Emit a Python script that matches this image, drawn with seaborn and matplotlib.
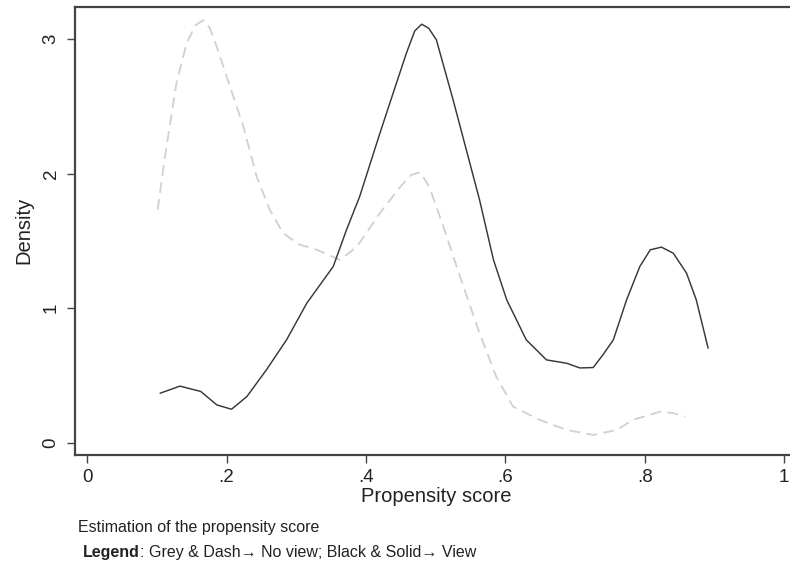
import matplotlib
matplotlib.use("Agg")
import matplotlib.pyplot as plt
import seaborn as sns
import pandas as pd

# Data (kernel density of propensity score)
view_x = [0.1045, 0.133, 0.163, 0.186, 0.207, 0.229, 0.257, 0.286, 0.315, 0.353,
          0.372, 0.391, 0.420, 0.439, 0.458, 0.470, 0.480, 0.490, 0.501, 0.525,
          0.544, 0.563, 0.583, 0.602, 0.630, 0.659, 0.688, 0.707, 0.726, 0.740,
          0.755, 0.774, 0.793, 0.808, 0.824, 0.841, 0.860, 0.874, 0.891]
view_y = [0.367, 0.420, 0.380, 0.280, 0.248, 0.342, 0.540, 0.764, 1.036, 1.309,
          1.581, 1.830, 2.300, 2.598, 2.895, 3.060, 3.110, 3.080, 2.994, 2.548,
          2.176, 1.804, 1.358, 1.061, 0.764, 0.615, 0.590, 0.555, 0.558, 0.652,
          0.764, 1.061, 1.309, 1.433, 1.453, 1.408, 1.260, 1.061, 0.702]

noview_x = [0.101, 0.1115, 0.128, 0.1426, 0.155, 0.1664, 0.176, 0.1857, 0.2047, 0.224,
            0.243, 0.262, 0.281, 0.305, 0.324, 0.363, 0.387, 0.420, 0.449, 0.465,
            0.478, 0.491, 0.511, 0.535, 0.563, 0.587, 0.611, 0.649, 0.688, 0.726,
            0.760, 0.783, 0.822, 0.841, 0.858]
noview_y = [1.730, 2.126, 2.672, 2.970, 3.100, 3.140, 3.080, 2.944, 2.650, 2.350,
            1.978, 1.730, 1.557, 1.470, 1.445, 1.358, 1.457, 1.706, 1.900, 1.990,
            2.010, 1.900, 1.606, 1.234, 0.813, 0.490, 0.268, 0.169, 0.094, 0.057,
            0.094, 0.169, 0.230, 0.219, 0.193]

x_ticks = [0, 0.2, 0.4, 0.6, 0.8, 1.0]
x_tick_labels = ["0", ".2", ".4", ".6", ".8", "1"]
y_ticks = [0, 1, 2, 3]
y_tick_labels = ["0", "1", "2", "3"]

sns.set_style("white")
plt.rcParams["font.family"] = ["Liberation Sans", "DejaVu Sans"]

fig = plt.figure(figsize=(7.90, 5.61), dpi=100)
ax = fig.add_axes([75 / 790, 1 - 455 / 561, 723 / 790, (455 - 6.7) / 561])

df_view = pd.DataFrame({"x": view_x, "y": view_y})
df_noview = pd.DataFrame({"x": noview_x, "y": noview_y})

sns.lineplot(data=df_noview, x="x", y="y", ax=ax, color="#d0d0d0", linewidth=1.3,
             sort=False, estimator=None)
ax.lines[-1].set_linestyle((0, (6, 3.5)))
sns.lineplot(data=df_view, x="x", y="y", ax=ax, color="#383838", linewidth=1.05,
             sort=False, estimator=None)

ax.set_xlim(-0.0176, 1.02)
ax.set_ylim(-0.092, 3.24)
ax.set_xticks(x_ticks)
ax.set_xticklabels(x_tick_labels)
ax.set_yticks(y_ticks)
ax.set_yticklabels(y_tick_labels, rotation=90, va="center")

ax.set_xlabel("Propensity score", fontsize=14.5, labelpad=1, color="#222222")
ax.set_ylabel("Density", fontsize=14.5, labelpad=7, color="#222222")

for side in ["left", "bottom", "top"]:
    ax.spines[side].set_visible(True)
    ax.spines[side].set_color("#444444")
    ax.spines[side].set_linewidth(1.6)
ax.spines["right"].set_visible(False)

ax.tick_params(axis="both", which="major", direction="out", length=6, width=1,
               color="#444444", labelsize=13.5, labelcolor="#222222",
               bottom=True, left=True)
ax.tick_params(axis="x", pad=4)
ax.tick_params(axis="y", pad=5)
ax.grid(False)

fig.text(78 / 790, 1 - 532 / 561, "Estimation of the propensity score",
         fontsize=11.5, color="#222222", ha="left", va="baseline")
leg_bold = fig.text(83 / 790, 1 - 557 / 561, "Legend", fontsize=11.5, fontweight="bold",
                    color="#222222", ha="left", va="baseline")
fig.canvas.draw()
bb = leg_bold.get_window_extent()
fig.text(bb.x1 / fig.bbox.width, 1 - 557 / 561,
         ": Grey & Dash\u2192 No view; Black & Solid\u2192 View",
         fontsize=11.5, color="#222222", ha="left", va="baseline")

fig.savefig("out.png", dpi=100)
